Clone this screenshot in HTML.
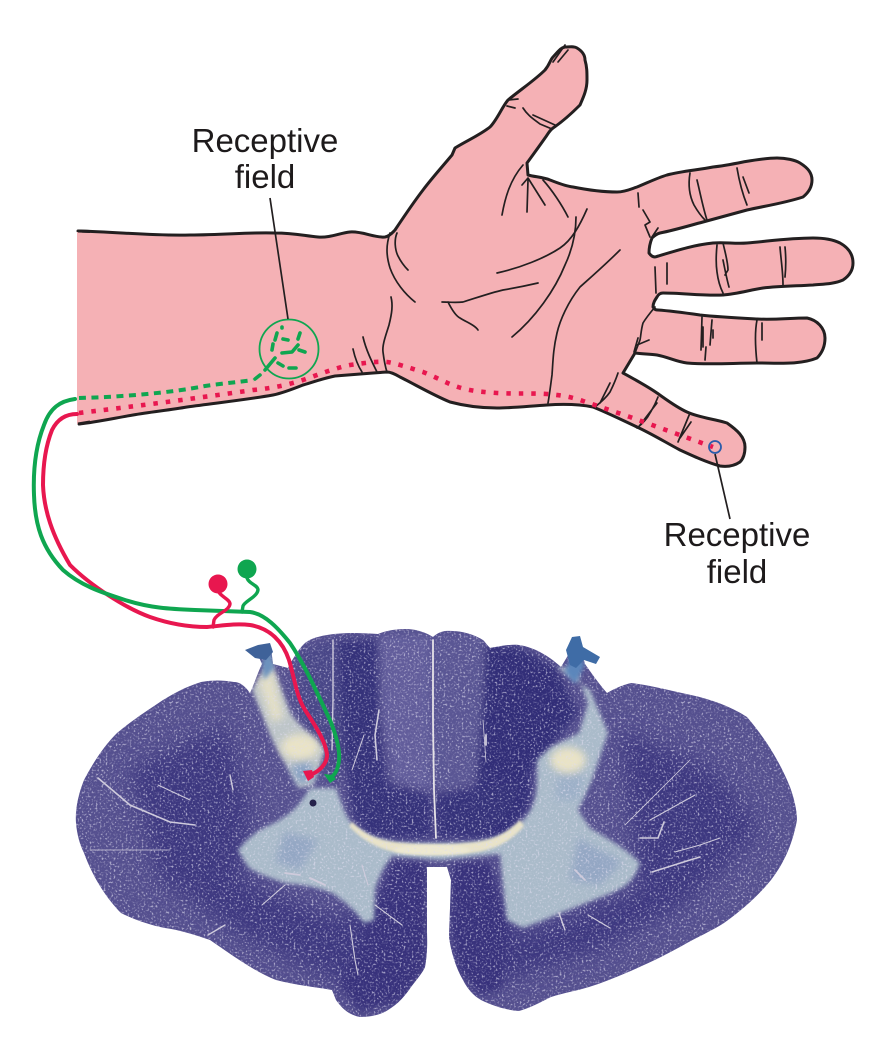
<!DOCTYPE html>
<html><head><meta charset="utf-8"><style>
html,body{margin:0;padding:0;background:#fff;width:880px;height:1042px;overflow:hidden}
svg{display:block}
text{font-family:"Liberation Sans",sans-serif;font-size:33px;fill:#1d1a1b;text-anchor:middle}
</style></head><body>
<svg width="880" height="1042" viewBox="0 0 880 1042" xmlns="http://www.w3.org/2000/svg">
<defs>
<filter id="b05" x="-20%" y="-20%" width="140%" height="140%"><feGaussianBlur stdDeviation="1.2"/></filter>
<filter id="b1" x="-20%" y="-20%" width="140%" height="140%"><feGaussianBlur stdDeviation="2"/></filter>
<filter id="b3" x="-30%" y="-30%" width="160%" height="160%"><feGaussianBlur stdDeviation="4"/></filter>
<filter id="b8" x="-30%" y="-30%" width="160%" height="160%"><feGaussianBlur stdDeviation="10"/></filter>
<filter id="spk" x="0" y="0" width="100%" height="100%">
<feTurbulence type="fractalNoise" baseFrequency="0.5" numOctaves="2" seed="7"/>
<feColorMatrix type="matrix" values="0 0 0 0 0.74  0 0 0 0 0.72  0 0 0 0 0.86  3 3 0 0 -3.15"/>
</filter>
<clipPath id="cc"><path d="M433,637C425,632 415,629 406,629C395,629 385,631 378,634C362,633 345,632 327,635C315,637 308,640 304,644C298,650 292,660 288,668L273,664L271,648L258,655L262,664C258,672 255,682 250,693C245,686 240,682 234,682C222,680 212,680 201,682C185,687 173,694 163,700C145,712 130,722 117,733C102,748 92,765 84,780C78,795 75,810 76,823C77,835 80,845 84,853C92,875 105,897 121,913C135,920 150,925 165,928C180,930 195,935 210,940C232,955 255,972 276,980C295,985 315,987 332,990L336,1000C343,1010 350,1015 360,1017C372,1017 382,1014 388,1010C398,1004 405,996 411,987C418,978 423,972 425,967C428,950 427,940 427,930L427,867L447,867L451,880L449,937C451,952 456,968 463,980C468,990 474,996 481,1000C493,1006 506,1010 519,1011C530,1008 541,1002 551,997C563,993 576,991 589,987C602,983 614,978 626,973C647,964 668,954 687,943C700,936 713,930 724,923C742,910 758,896 771,880C785,862 793,842 797,820C797,810 794,798 790,787C780,762 765,738 747,717C730,706 710,699 691,695C672,691 650,685 631,683C622,685 614,689 607,693C600,685 592,674 585,664L581,650L570,652L561,667C548,655 533,647 519,645C508,644 497,647 490,648C487,645 485,642 483,640C473,634 460,630 445,631C440,632 436,634 433,637Z"/></clipPath>
</defs>

<!-- spinal cord -->
<g>
<g clip-path="url(#cc)">
<rect x="60" y="620" width="750" height="410" fill="#55508f"/>
<g filter="url(#b8)" fill="#3e3980">
<path d="M130,770L225,725L250,810L240,880L340,920L400,880L405,1000L350,985L250,940L160,880Z"/>
<path d="M620,730L715,770L760,830L690,900L600,950L490,985L470,880L520,935L640,890Z"/>
</g>
<g filter="url(#b3)">
<path d="M338,640L378,640L380,720L385,770L392,838L370,835L352,815L345,760L340,720Z" fill="#35307a"/>
<path d="M486,645L520,648L556,668L578,712L555,742L532,770L530,805L505,838L472,838L476,790L482,720Z" fill="#332f78"/>
<path d="M378,635L431,635L431,790L395,780L382,720Z" fill="#625d9b"/>
<path d="M435,635L484,635L480,720L474,780L436,790Z" fill="#5a5694"/>
<path d="M350,770C370,780 410,790 431,795L431,838L388,838C365,825 352,800 350,770Z" fill="#35307a"/>
<path d="M520,780C500,785 460,790 436,795L436,838L470,838C500,830 518,810 520,780Z" fill="#35307a"/>
<path d="M300,650L335,640L345,760L335,790L320,745L300,715Z" fill="#4a4688"/>
<path d="M392,860L426,862L426,965L400,1000L360,1012L340,985L372,925Z" fill="#37327b"/>
<path d="M452,862L490,862L508,925L500,990L480,995L458,970L450,930Z" fill="#37327b"/>
</g>
<!-- gray matter -->
<g filter="url(#b1)">
<path d="M238,850C248,838 258,830 270,825C285,818 295,810 302,800L310,788L336,788C342,805 345,815 352,824C365,835 380,842 405,843L460,843C490,842 510,835 525,818C532,810 536,800 537,785L537,760L551,747L579,733L588,703L575,668L556,667L590,690L608,733L592,780L578,810L590,828C610,840 628,850 640,863C636,875 632,880 625,886C610,895 600,897 589,902C567,910 545,920 523,928L507,920L503,885L500,854L440,860L392,856C384,866 378,878 375,890L374,920L364,923C355,910 343,900 332,893C315,886 300,885 285,883C270,878 258,874 248,867Z" fill="#aabbca"/>
<path d="M252,690L270,660L290,712C298,725 312,735 325,750L313,785L299,788C288,768 278,752 271,737Z" fill="#bdc5c8"/>
</g>
<g filter="url(#b3)">
<ellipse cx="300" cy="747" rx="19" ry="13" fill="#e9e3c6"/>
<ellipse cx="568" cy="760" rx="18" ry="13" fill="#e9e3c6"/>
<path d="M258,682L272,668L284,718L272,722Z" fill="#e3dfc6"/>
<path d="M290,765L310,760L315,780L298,785Z" fill="#8aa3c4"/>
<path d="M558,775L585,775L580,800L555,800Z" fill="#9db0c8"/>
<path d="M578,838L622,862L600,885L570,880Z" fill="#94a7c4"/>
<path d="M285,832L318,840L300,870L275,862Z" fill="#94a7c4"/>
</g>
<!-- commissure -->
<path d="M352,822C368,838 385,842 405,843C420,845 450,845 465,843C490,842 505,835 520,820L524,826C505,848 485,852 460,854C440,855 415,855 395,852C375,848 360,838 349,826Z" fill="#e9e3c8" filter="url(#b05)"/>
<ellipse cx="432" cy="850" rx="38" ry="5" fill="#eee9d0" filter="url(#b05)"/>
<rect x="60" y="620" width="750" height="410" filter="url(#spk)" opacity=".65"/>
<path d="M262,662L270,645L274,668L264,680Z" fill="#6c92bd" filter="url(#b1)"/>
<path d="M565,672L575,645L585,665L575,684Z" fill="#5b86bb" filter="url(#b1)"/>
<!-- pale fibres -->
<g fill="none" stroke="#cfcbdc" stroke-width="1.1" stroke-linecap="round">
<path d="M433,640L433,720L434,790L436,838" stroke="#e6e2e6" stroke-width="1.8"/>
<path d="M333,640L333,700L332,750" stroke-width="1.4"/>
<path d="M379,710L375,735L377,760" stroke-width="1.6"/>
<path d="M364,735L352,770" stroke-width="1"/>
<path d="M98,778L130,805L170,822L195,825" stroke-width="1.6"/>
<path d="M158,785L190,800" stroke-width="1"/>
<path d="M230,775L233,790" stroke-width="1.4"/>
<path d="M90,850L170,850" stroke-width=".8"/>
<path d="M285,885L262,905"/>
<path d="M375,905L402,925"/>
<path d="M350,925L355,960L358,975"/>
<path d="M208,935L225,925" stroke-width="1.4"/>
<path d="M486,762L483,720" stroke-width=".8"/>
<path d="M486,735L486,745" stroke-width="1.8"/>
<path d="M625,825L690,760" stroke-width=".8"/>
<path d="M650,820L695,795"/>
<path d="M640,838L658,838L664,822" stroke-width="1.6"/>
<path d="M720,838L700,845L675,852"/>
<path d="M652,872L690,860L700,857" stroke-width="1.6"/>
<path d="M559,913L565,930" stroke-width="1.4"/>
<path d="M588,915L610,928"/>
<path d="M575,870L585,880" stroke-width="1.8"/>
<path d="M285,873L300,875" stroke-width="1.8"/>
<path d="M310,878L325,885" stroke-width="2"/>
<path d="M362,865L368,885"/>
</g>
<circle cx="313" cy="803" r="3.5" fill="#25214a"/>
</g>
<!-- root blobs -->
<path d="M245,650L258,645L270,643L273,652L266,660L255,658Z" fill="#3f6299"/>
<path d="M566,650L572,637L580,636L583,647L600,657L596,664L584,660L576,668L570,665Z" fill="#3f6ca6"/>
</g>

<!-- hand -->
<path fill="#f5b1b5" stroke="#231f20" stroke-width="3" stroke-linejoin="round" stroke-linecap="round" d="M78,231C120,232 150,236 190,235C225,235 250,232 275,233C295,233 305,236 318,237C330,238 340,233 350,232C362,231 375,238 385,237C390,236 393,232 395,230C405,215 413,203 423,190C432,178 442,167 452,155L455,148C468,140 480,135 490,127C497,120 502,107 508,100C520,90 535,80 545,70C550,64 550,60 553,57C558,52 560,48 565,47C570,47 574,46 577,48C582,51 585,55 585,60C587,67 587,72 587,80C587,90 583,98 580,105C572,113 562,122 553,128C549,131 548,134 545,138C538,148 532,156 527,163L528,175C535,177 543,177 550,180C558,183 565,186 573,187C588,190 602,192 617,192C625,192 631,189 637,187C647,183 657,178 667,175C682,171 698,170 713,167C723,166 733,164 743,162C755,160 766,158 777,158C786,158 795,160 800,163C808,168 812,173 812,180C812,188 808,193 803,197C785,203 765,206 747,210C732,214 718,218 703,222C688,226 675,230 660,233C656,234 654,236 652,238C650,243 649,248 649,253C651,256 653,257 655,257C675,251 693,245 713,243C725,242 735,244 747,243C770,241 790,238 813,238C825,238 834,240 840,243C849,248 853,255 853,263C853,270 849,276 843,280C834,284 824,284 813,285C797,286 780,286 763,288C750,290 737,294 723,295C703,296 683,293 663,293C660,293 658,295 657,297C655,300 653,303 653,307C655,310 656,310 658,310C672,311 686,313 700,315C718,317 738,318 757,319C775,320 790,318 807,318C817,320 825,328 825,338C825,347 822,353 817,358C800,365 778,363 757,363C733,363 710,365 687,363C677,362 668,357 657,355C650,354 642,354 635,353L623,373C634,379 647,386 657,393C667,400 676,407 687,412C700,418 715,419 727,423C737,430 745,437 745,447C745,453 744,458 740,462C734,466 727,467 720,466C706,462 693,456 680,450C665,442 652,434 637,427C622,420 608,413 593,407C578,404 562,404 547,405C530,406 513,408 497,408C480,408 465,406 450,402C433,395 416,385 400,377C395,374 391,372 387,372L373,373L335,376C324,378 314,382 303,385C293,389 283,393 273,395C245,400 215,403 187,407C170,410 150,412 133,415C115,418 97,422 79,424"/>
<path fill="#f5b1b5" d="M77,232L82,232L82,423L77,424Z"/>
<path d="M78,231L90,231.5M78,424L90,422" stroke="#231f20" stroke-width="3"/>
<g fill="none" stroke="#231f20" stroke-linejoin="round" stroke-linecap="round" stroke-width="1.7">
<path d="M553,62L565,45M558,62L568,50"/>
<path d="M508,100L518,99M507,106L515,108"/>
<path d="M523,108C528,116 535,120 540,124L552,129M533,115L555,125"/>
<path d="M502,215C505,198 510,180 523,165"/>
<path d="M522,185L528,178L545,205M528,180L527,212"/>
<path d="M543,180C552,190 562,205 568,217"/>
<path d="M587,209C580,225 572,240 560,248C545,258 520,268 497,273"/>
<path d="M576,217C576,235 572,250 565,265C555,290 535,318 512,337"/>
<path d="M620,250C605,265 590,278 580,287C568,302 560,320 557,333C553,350 553,362 552,375C550,390 549,398 548,403"/>
<path d="M538,283C525,286 515,288 503,290C490,293 476,298 463,302C455,303 448,302 442,302"/>
<path d="M448,302C452,310 456,316 460,318C466,322 475,325 478,330"/>
<path d="M390,233C386,245 386,255 390,268C395,282 405,294 415,302"/>
<path d="M397,233C394,240 395,250 398,256C401,262 405,267 408,270"/>
<path d="M391,297C393,305 392,313 389,325C386,335 382,345 383,352C384,360 385,366 387,372"/>
<path d="M353,349C355,358 358,366 362,372M363,337C366,350 372,362 377,372"/>
<path d="M690,173C688,185 689,195 694,205C698,212 702,217 705,220M697,180C700,192 703,208 707,220"/>
<path d="M737,168C739,180 743,195 747,205M743,177L749,193"/>
<path d="M638,193L639,207M643,210L650,222L645,225L650,237M652,237L658,228"/>
<path d="M717,245C716,255 716,265 717,272C718,280 720,287 723,293M723,243C725,252 728,262 728,270L725,275M723,260C725,270 727,280 729,287"/>
<path d="M780,247C781,260 783,272 783,285M785,247C786,257 786,267 785,277"/>
<path d="M655,267L656,293M667,263L667,284"/>
<path d="M702,317L701,350M703,327L703,347M712,320L710,345M713,330L713,338M706,347L705,360"/>
<path d="M757,320C755,330 755,345 757,363M762,323L762,340"/>
<path d="M655,307C650,313 646,318 643,323C641,330 641,335 640,340L635,353M637,345L649,340M638,338L634,352"/>
<path d="M618,373C615,382 612,388 610,392C606,398 600,403 595,407M610,383L600,403"/>
<path d="M658,397C655,405 653,408 650,413C647,419 642,424 637,428M657,403L640,425"/>
<path d="M690,413L678,442M691,422L680,438"/>
</g>

<!-- neurons -->
<g fill="none" stroke-linecap="round" stroke-linejoin="round">
<path stroke="#0fa650" stroke-width="4" stroke-linecap="butt" stroke-dasharray="7 5.5" d="M79,398C120,397 170,393 205,386C225,383 240,382 253,380"/>
<path stroke="#0fa650" stroke-width="3.6" d="M255,379L260,375M265,370L275,358M282,327L282,328M277,333L275,340M273,344L272,350M283,339L288,340M300,333L298,339M282,353L292,352L298,345M299,350L305,352M278,363L283,366M289,368L296,368"/>
<path stroke="#e8174f" stroke-width="4.6" stroke-linecap="butt" stroke-dasharray="4.5 8" d="M79,413C120,408 170,402 253,390C275,388 290,384 303,380C320,374 335,368 350,365C365,363 378,361 387,362C395,363 410,368 423,372C438,378 448,384 458,387C470,391 483,392 497,393C515,394 530,393 547,394C560,395 572,397 583,401L630,417L677,434L713,447"/>
<path stroke="#e8174f" stroke-width="4" d="M77,414C65,414 57,420 52,430C46,445 43,465 43,485C44,510 52,535 70,565C90,585 125,608 150,617C170,624 190,627 207,627C220,626 235,623 250,625C270,628 283,642 289,660C295,680 296,695 305,710C315,725 326,742 327,755C327,765 318,772 310,775"/>
<path stroke="#0fa650" stroke-width="4" d="M75,399C60,401 50,408 44,425C36,445 33,470 34,495C35,525 42,548 63,570C80,585 100,592 125,600C150,608 170,609 195,610L250,612C265,614 278,628 290,643C305,665 318,695 330,720C336,735 340,750 339,760C338,770 335,775 330,778"/>
<path stroke="#e8174f" stroke-width="3.4" d="M218,590C219,596 230,599 230,604C229,611 217,613 214,620L213,627"/>
<path stroke="#0fa650" stroke-width="3.4" d="M247,578C249,584 258,585 258,590C257,597 245,601 243,606L242,612"/>
</g>
<circle cx="218" cy="584" r="9.5" fill="#e8174f"/>
<circle cx="247" cy="569" r="9.5" fill="#0fa650"/>
<path d="M303,771L312,770L314,777L308,781Z" fill="#e8174f"/>
<path d="M324,774L332,775L336,779L330,783Z" fill="#0fa650"/>

<!-- receptive fields and leaders -->
<circle cx="289" cy="349" r="29.5" fill="none" stroke="#0fa650" stroke-width="1.8"/>
<circle cx="715" cy="447" r="6" fill="none" stroke="#2b5cab" stroke-width="1.8"/>
<path d="M270,198L288,319M715,454L730,519" stroke="#231f20" stroke-width="1.7" fill="none"/>
<text x="265" y="152">Receptive</text>
<text x="265" y="188">field</text>
<text x="737" y="546">Receptive</text>
<text x="737" y="583">field</text>
</svg>
</body></html>
